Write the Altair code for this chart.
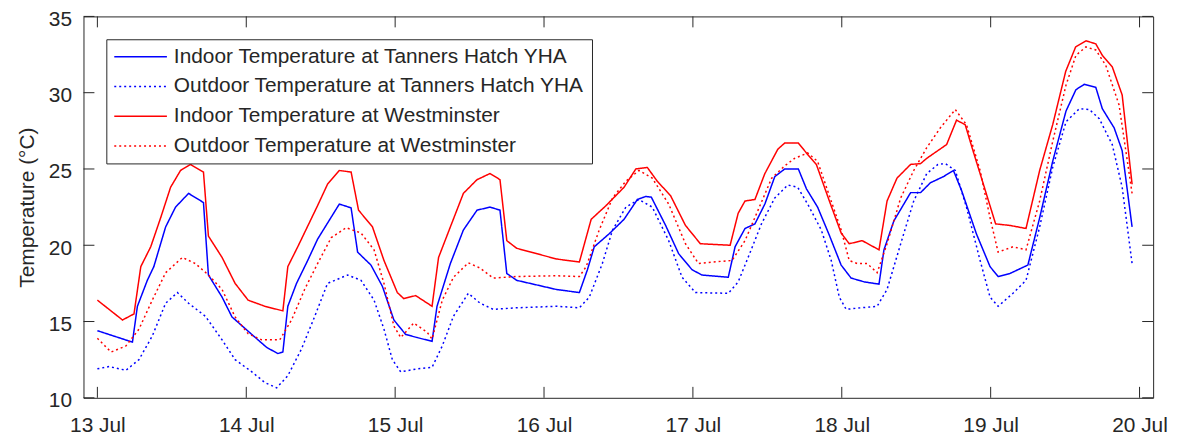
import altair as alt
import pandas as pd

# ---------------- data ----------------
SERIES = [
    "Indoor Temperature at Tanners Hatch YHA",
    "Outdoor Temperature at Tanners Hatch YHA",
    "Indoor Temperature at Westminster",
    "Outdoor Temperature at Westminster",
]

# hours after 13 Jul 00:00
tanners_in_h = [0, 5.65, 6.45, 8.05, 9.1, 11.0, 12.6, 14.7, 17.1, 17.9, 20.1, 21.7, 24.9, 27.3, 29.1, 29.9,
                30.7, 32.1, 33.9, 35.5, 39.0, 40.9, 41.95, 44.1, 45.95, 47.8, 49.7, 51.55, 53.95, 54.75,
                56.9, 59.0, 61.2, 63.3, 64.9, 66.0, 67.6, 74.0, 77.7, 79.0, 80.1, 82.5, 84.9, 87.05, 88.4,
                89.3, 91.6, 93.7, 95.85, 97.45, 101.7, 102.8, 104.4, 106.0, 107.6, 109.2, 110.8, 113.0,
                114.3, 116.1, 118.0, 119.9, 121.5, 123.6, 126.0, 126.8, 128.4, 131.1, 132.7, 134.3, 136.4,
                138.0, 139.3, 141.7, 143.9, 145.2, 147.1, 150.0, 151.9, 154.0, 156.15, 157.75, 159.1,
                160.95, 162.0, 163.9, 165.2, 166.8]
tanners_in_t = [14.4, 13.65, 16.0, 17.7, 18.6, 21.2, 22.5, 23.4, 22.8, 18.05, 16.6, 15.3, 14.15, 13.3, 12.9, 13.0,
                16.0, 17.5, 19.0, 20.4, 22.7, 22.45, 19.55, 18.7, 17.3, 15.1, 14.15, 13.95, 13.7, 16.0,
                18.8, 21.0, 22.3, 22.5, 22.3, 18.15, 17.7, 17.1, 16.9, 18.4, 19.9, 20.75, 21.7, 23.0, 23.2,
                23.15, 21.3, 19.45, 18.4, 18.05, 17.9, 19.9, 21.1, 21.4, 22.7, 24.5, 25.0, 25.0,
                23.7, 22.5, 20.65, 18.7, 17.85, 17.6, 17.45, 19.7, 21.6, 23.45, 23.45, 24.1, 24.5,
                24.9, 23.6, 20.75, 18.6, 17.95, 18.15, 18.7, 21.8, 25.5, 28.8, 30.2, 30.55,
                30.35, 28.95, 27.7, 26.2, 21.2]

tanners_out_h = [0, 1.9, 4.6, 6.7, 8.85, 11.0, 12.9, 14.7, 17.4, 20.1, 22.2, 24.9, 27.0, 28.9, 30.7, 32.9,
                 35.0, 37.1, 40.35, 42.5, 44.6, 46.2, 47.55, 48.9, 51.55, 53.95, 55.6, 57.4, 59.8, 61.7,
                 63.8, 67.6, 74.0, 77.7, 79.3, 81.4, 83.05, 85.2, 87.3, 89.45, 92.1, 94.25, 96.4, 101.7,
                 103.3, 104.9, 107.05, 109.2, 111.3, 112.9, 114.5, 116.7, 118.3, 119.6, 120.7, 123.1,
                 125.7, 127.3, 129.5, 131.6, 133.7, 135.5, 136.7, 138.3, 140.1, 142.3, 143.9, 145.2,
                 147.6, 149.7, 151.9, 154.0, 156.15, 158.3, 159.9, 161.5, 163.6, 165.2, 166.8]
tanners_out_t = [11.9, 12.05, 11.8, 12.5, 14.05, 16.2, 16.9, 16.2, 15.35, 13.8, 12.5, 11.7, 11.0, 10.65, 11.45, 13.2,
                 15.3, 17.5, 18.05, 17.7, 16.4, 14.5, 12.5, 11.7, 11.9, 12.0, 13.4, 15.35, 16.85, 16.2,
                 15.8, 15.9, 16.0, 15.9, 16.6, 18.8, 21.0, 22.5, 23.0, 22.5, 20.3, 17.9, 16.9, 16.85,
                 17.6, 19.2, 21.4, 23.1, 23.95, 23.8, 22.7, 21.0, 19.0, 16.6, 15.8, 15.9,
                 16.0, 17.1, 20.1, 22.9, 24.7, 25.3, 25.35, 24.9, 22.5, 19.0, 16.6, 16.0,
                 16.85, 17.7, 21.2, 25.1, 28.1, 28.95, 28.9, 28.3, 26.6, 23.8, 18.8]

west_in_h = [0, 4.05, 5.9, 7.0, 8.6, 10.2, 11.8, 13.4, 15.0, 17.1, 17.9, 20.1, 22.2, 24.3, 27.0, 29.9,
             30.7, 32.3, 35.5, 37.1, 39.0, 40.9, 42.1, 44.35, 46.2, 48.35, 49.4, 51.3, 53.95, 55.0,
             56.9, 59.0, 61.2, 63.3, 64.9, 66.0, 67.6, 74.0, 77.7, 79.6, 82.0, 84.9, 86.8, 88.65,
             90.25, 92.4, 94.8, 97.2, 102.0, 103.3, 104.4, 106.0, 107.6, 109.7, 110.8, 113.0, 114.5,
             115.9, 118.0, 119.9, 121.2, 123.3, 126.0, 127.3, 128.9, 131.1, 132.7, 133.7, 136.9,
             138.5, 139.9, 141.0, 142.6, 144.8, 147.1, 149.7, 151.9, 154.0, 156.1, 157.7, 159.4,
             160.95, 162.0, 163.6, 165.2, 166.8]
west_in_t = [16.4, 15.1, 15.5, 18.6, 19.9, 21.8, 23.8, 24.9, 25.3, 24.8, 20.6, 19.2, 17.5, 16.4, 16.0, 15.7,
             18.6, 19.9, 22.6, 24.0, 24.9, 24.8, 22.3, 21.2, 19.0, 16.9, 16.5, 16.7, 16.0, 19.2,
             21.2, 23.4, 24.3, 24.7, 24.3, 20.3, 19.8, 19.1, 18.9, 21.7, 22.6, 23.8, 25.0, 25.1,
             24.2, 23.25, 21.3, 20.1, 20.0, 22.1, 22.9, 23.0, 24.7, 26.3, 26.7, 26.7, 25.95,
             25.3, 22.9, 20.8, 20.1, 20.3, 19.7, 22.9, 24.4, 25.3, 25.35, 25.7, 26.6,
             28.2, 27.9, 26.4, 24.3, 21.4, 21.3, 21.1, 24.9, 27.9, 31.4, 33.0, 33.4,
             33.2, 32.45, 31.7, 29.85, 24.0]

west_out_h = [0, 2.2, 4.6, 6.7, 8.85, 11.0, 13.7, 15.8, 17.9, 20.1, 22.2, 24.3, 26.5, 29.4, 31.3, 33.4,
              35.5, 37.7, 40.1, 42.5, 44.6, 46.2, 47.8, 48.9, 51.0, 53.15, 53.95, 55.6, 57.4, 59.8,
              61.7, 63.8, 67.6, 74.0, 77.7, 78.8, 80.9, 83.05, 85.2, 87.3, 89.45, 92.1, 94.8, 96.9,
              99.1, 102.3, 104.4, 106.5, 108.7, 110.8, 112.4, 114.5, 116.1, 117.7, 119.9, 121.2,
              122.5, 124.1, 125.7, 127.3, 129.5, 131.6, 133.7, 135.9, 138.3, 140.1, 142.3, 143.9,
              145.2, 147.6, 149.7, 151.9, 154.0, 156.15, 157.75, 159.35, 160.95, 162.55, 164.7, 166.8]
west_out_t = [13.9, 13.0, 13.4, 14.5, 16.4, 18.2, 19.2, 18.8, 18.05, 17.1, 15.3, 14.2, 13.8, 13.8, 15.1, 17.1,
              18.8, 20.5, 21.15, 20.8, 19.7, 17.5, 14.7, 13.95, 14.9, 14.3, 13.85, 16.4, 17.9, 18.85,
              18.5, 17.85, 17.95, 18.0, 17.95, 18.6, 21.0, 23.1, 24.2, 24.9, 24.4, 22.7, 20.1, 18.8,
              18.9, 19.0, 20.3, 22.3, 24.4, 25.2, 25.7, 26.05, 25.5, 23.6, 21.0, 19.0,
              18.8, 18.8, 18.2, 20.1, 23.1, 24.9, 26.4, 27.7, 28.9, 27.9, 24.9, 21.8,
              19.55, 19.9, 19.7, 22.9, 26.8, 30.5, 32.45, 33.0, 32.8, 31.8, 29.2, 23.4]

X_TICKS = [13, 14, 15, 16, 17, 18, 19, 20]
Y_TICKS = [10, 15, 20, 25, 30, 35]

# ---------------- build table ----------------
rows = []
for name, hs, ts in zip(SERIES,
                        [tanners_in_h, tanners_out_h, west_in_h, west_out_h],
                        [tanners_in_t, tanners_out_t, west_in_t, west_out_t]):
    for h, t in zip(hs, ts):
        rows.append({"series": name, "day": 13 + h / 24.0, "temp": t})
df = pd.DataFrame(rows)
xt_df = pd.DataFrame({"day": X_TICKS})
yt_df = pd.DataFrame({"temp": Y_TICKS})

# ---------------- style ----------------
W, H = 1077, 384
INK = "#262626"
FONT = "Liberation Sans"
COLORS = ["#0000ff", "#0000ff", "#ff0000", "#ff0000"]
DASHES = [[1, 0], [2, 3], [1, 0], [2, 3]]
TICK = 11

xscale = alt.Scale(domain=[12.9066, 20.0914], nice=False, zero=False)
yscale = alt.Scale(domain=[10, 35], nice=False, zero=False)

x_axis = alt.Axis(values=X_TICKS, labelExpr="datum.value + ' Jul'", title=None,
                  labelPadding=17, labelFlush=False, labelOverlap=False)
y_axis = alt.Axis(values=Y_TICKS, title="Temperature (°C)", labelPadding=12, labelOffset=3,
                  labelFlush=False, titleX=-50, titleY=H / 2, titleBaseline="alphabetic",
                  labelOverlap=False)

X = alt.X("day:Q", scale=xscale, axis=x_axis)
Y = alt.Y("temp:Q", scale=yscale, axis=y_axis)

leg = alt.Legend(title=None, orient="none", legendX=23, legendY=23,
                 symbolType="stroke", symbolSize=2809, symbolStrokeWidth=1.5,
                 labelFontSize=21, labelFont=FONT, labelColor=INK, labelLimit=1000,
                 labelOffset=6, padding=7, rowPadding=8, clipHeight=21)

lines = alt.Chart(df).mark_line(strokeWidth=1.5).encode(
    x=X, y=Y,
    color=alt.Color("series:N", scale=alt.Scale(domain=SERIES, range=COLORS), legend=leg),
    strokeDash=alt.StrokeDash("series:N", scale=alt.Scale(domain=SERIES, range=DASHES), legend=leg),
)

tick_mark = dict(color=INK, strokeWidth=1)
bottom_ticks = alt.Chart(xt_df).mark_rule(**tick_mark).encode(x=X, y=alt.value(H), y2=alt.value(H - TICK))
top_ticks = alt.Chart(xt_df).mark_rule(**tick_mark).encode(x=X, y=alt.value(0), y2=alt.value(TICK))
left_ticks = alt.Chart(yt_df).mark_rule(**tick_mark).encode(y=Y, x=alt.value(0), x2=alt.value(TICK))
right_ticks = alt.Chart(yt_df).mark_rule(**tick_mark).encode(y=Y, x=alt.value(W), x2=alt.value(W - TICK))

chart = alt.layer(lines, bottom_ticks, top_ticks, left_ticks, right_ticks).properties(
    width=W, height=H,
    padding={"left": 76, "top": 7, "right": 21, "bottom": 40},
    autosize=alt.AutoSizeParams(type="none"),
    background="white",
).configure_axis(
    labelFont=FONT, labelFontSize=21, labelColor=INK, tickSize=0, domain=False, grid=False,
    titleFont=FONT, titleFontSize=21, titleFontWeight="normal", titleColor=INK,
).configure_legend(
    strokeColor=INK, strokeWidth=1, fillColor="white",
).configure_view(
    stroke=INK, strokeWidth=1,
)

chart.save("out.html", embed_options={"renderer": "svg", "actions": False})
